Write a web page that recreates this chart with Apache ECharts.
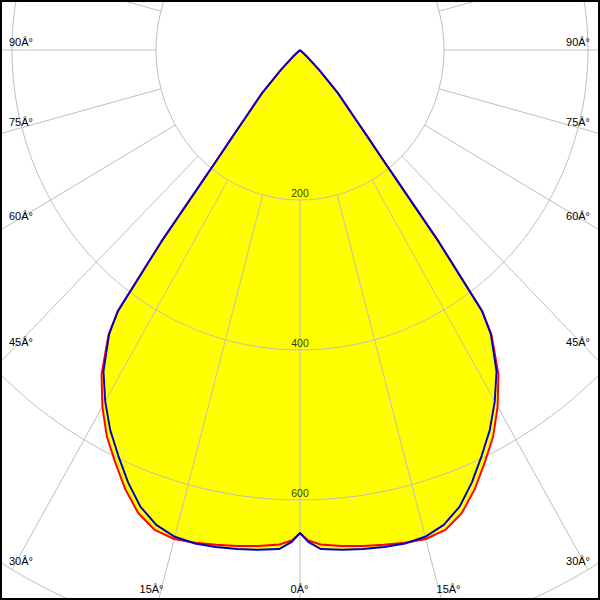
<!DOCTYPE html>
<html><head><meta charset="utf-8">
<script src="https://cdn.jsdelivr.net/npm/echarts@6/dist/echarts.min.js"></script>
<style>
html,body{margin:0;padding:0;background:#fff;overflow:hidden;}
#wrap{position:relative;width:600px;height:600px;overflow:hidden;background:#fff;}
#chart{position:absolute;left:0;top:0;width:625px;height:600px;transform:scaleX(0.96);transform-origin:0 0;}
#frame{position:absolute;left:0;top:0;width:600px;height:600px;box-sizing:border-box;border:2px solid #000;pointer-events:none;}
</style></head><body>
<div id="wrap"><div id="chart"></div><div id="frame"></div></div>
<script>
// gamma angles (degrees from nadir), one half of each symmetric C-plane
const gammaAngles = [0,1,2.5,5,7.5,10,12.5,15,17.5,20,22.5,25,27.5,30,32.5,35,36,37,38,39,40,42.5,45,47.5,50,60,70,80,90];
// intensity (cd) – red C-plane
const redValues  = [644,654,660,664,667,670,673,675,671,657,634,607,581,549,513,464,431,320,200,150,118,78,38,14,0,0,0,0,0];
// intensity (cd) – blue C-plane
const blueValues = [644,656,666,669,671,673,674,672,664,648,624,597,571,541,508,462,430,320,200,150,118,78,38,14,0,0,0,0,0];
// radial tick labels
const radiusTicks = [200,400,600];
// angle labels
const angleLabels = ['90\u00C2\u00B0','75\u00C2\u00B0','60\u00C2\u00B0','45\u00C2\u00B0','30\u00C2\u00B0','15\u00C2\u00B0','0\u00C2\u00B0'];

const SX = 0.96;
const gridColor = '#bdbdbd';
const font = '11px "Liberation Sans", Arial, sans-serif';

function mirror(vals){
  const d = [];
  for (let i = gammaAngles.length - 1; i > 0; i--) d.push([vals[i], -gammaAngles[i]]);
  for (let i = 0; i < gammaAngles.length; i++) d.push([vals[i], gammaAngles[i]]);
  return d;
}

// label placement (final picture coordinates)
const leftY = [42.5, 122.5, 216.5, 342.5, 561];
const graphics = [];
for (let i = 0; i < 5; i++) {
  graphics.push({type:'text', x: 9 / SX, y: leftY[i], scaleX: 1/SX, z: 10,
    style:{text: angleLabels[i], align:'left', verticalAlign:'middle', fill:'#000', font: font}});
  graphics.push({type:'text', x: 590 / SX, y: leftY[i], scaleX: 1/SX, z: 10,
    style:{text: angleLabels[i], align:'right', verticalAlign:'middle', fill:'#000', font: font}});
}
graphics.push({type:'text', x: 151.5 / SX, y: 589.5, scaleX: 1/SX, z: 10,
  style:{text: angleLabels[5], align:'center', verticalAlign:'middle', fill:'#000', font: font}});
graphics.push({type:'text', x: 448.5 / SX, y: 589.5, scaleX: 1/SX, z: 10,
  style:{text: angleLabels[5], align:'center', verticalAlign:'middle', fill:'#000', font: font}});
graphics.push({type:'text', x: 299.5 / SX, y: 589.5, scaleX: 1/SX, z: 10,
  style:{text: angleLabels[6], align:'center', verticalAlign:'middle', fill:'#000', font: font}});

const cx = 300 / SX, cy = 50, R = 600;
const hidden = {axisLine:{show:false}, axisTick:{show:false}, axisLabel:{show:false}};

const chart = echarts.init(document.getElementById('chart'), null, {renderer:'svg', width:625, height:600});
chart.setOption({
  animation: false,
  backgroundColor: '#fff',
  polar: [
    {center:[cx, cy], radius:[0, R]},
    {center:[cx, cy], radius:[150, R]}
  ],
  angleAxis: [
    Object.assign({polarIndex:0, type:'value', min:-180, max:180, startAngle:90, clockwise:true, splitLine:{show:false}}, hidden),
    Object.assign({polarIndex:1, type:'value', min:-180, max:180, interval:15, startAngle:90, clockwise:true, z:2,
      splitLine:{show:true, lineStyle:{color:gridColor, width:1}}}, hidden)
  ],
  radiusAxis: [
    Object.assign({polarIndex:0, type:'value', min:0, max:800, interval:200, z:2,
      splitLine:{show:true, lineStyle:{color:gridColor, width:1}}}, hidden),
    Object.assign({polarIndex:1, type:'value', min:0, max:1, splitLine:{show:false}}, hidden)
  ],
  graphic: graphics,
  series: [
    {type:'line', coordinateSystem:'polar', polarIndex:0, data: mirror(redValues), symbol:'none', silent:true, z:1,
      lineStyle:{width:0, opacity:0}, areaStyle:{color:'#ffff00', opacity:1}},
    {type:'line', coordinateSystem:'polar', polarIndex:0, data: mirror(blueValues), symbol:'none', silent:true, z:1,
      lineStyle:{width:0, opacity:0}, areaStyle:{color:'#ffff00', opacity:1}},
    {type:'line', coordinateSystem:'polar', polarIndex:0, data: mirror(redValues), symbol:'none', silent:true, z:3,
      lineStyle:{color:'#ff0000', width:2}},
    {type:'line', coordinateSystem:'polar', polarIndex:0, data: mirror(blueValues), symbol:'none', silent:true, z:4,
      lineStyle:{color:'#0000c8', width:2}},
    {type:'scatter', coordinateSystem:'polar', polarIndex:0, data: radiusTicks.map(v => [v, 0]), symbolSize:1, silent:true, z:5,
      itemStyle:{color:'rgba(0,0,0,0)'},
      label:{show:true, position:'top', distance:1, formatter: p => String(p.value[0]), color:'#000', fontSize:11, fontFamily:'"Liberation Sans", Arial, sans-serif'}}
  ]
});
</script>
</body></html>
